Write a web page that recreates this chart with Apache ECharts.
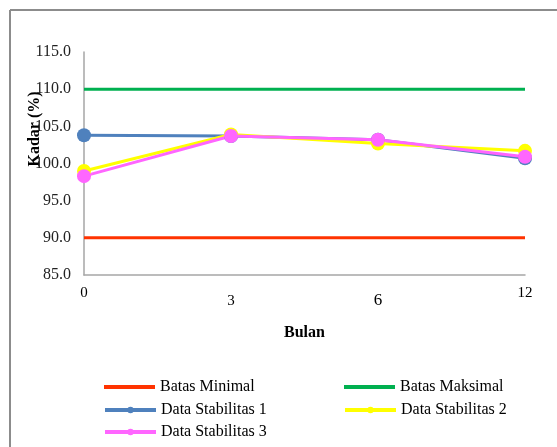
<!DOCTYPE html>
<html>
<head>
<meta charset="utf-8">
<script src="https://cdn.jsdelivr.net/npm/echarts@6/dist/echarts.min.js"></script>
<style>
  html, body { margin: 0; padding: 0; background: #fff; }
  #chart { width: 557px; height: 447px; }
</style>
</head>
<body>
<div id="chart"></div>
<script>
// Storage months and assay content (%)
const bulan = ['0', '3', '6', '12'];
const batasMinimal = [90, 90, 90, 90];
const batasMaksimal = [110, 110, 110, 110];
const stabilitas1 = [103.8, 103.7, 103.2, 100.7];
const stabilitas2 = [99.0, 103.9, 102.7, 101.7];
const stabilitas3 = [98.3, 103.7, 103.2, 100.9];

const serif = '"Liberation Serif", "Times New Roman", serif';
const chart = echarts.init(document.getElementById('chart'));

const lineSeries = (name, data, color, withMarker) => ({
  name,
  type: 'line',
  data,
  symbol: withMarker ? 'circle' : 'none',
  symbolSize: 14,
  showSymbol: withMarker,
  lineStyle: { color, width: 3 },
  itemStyle: { color },
  emphasis: { disabled: true },
  animation: false
});

// one legend entry per box so each sits in its own row/column cell
const legendItem = (name, left, top, plain) => ({
  left: plain ? left + 1 : left, top, orient: 'horizontal',
  itemWidth: 51, itemHeight: plain ? 4 : 8, itemGap: 0, padding: 0,
  icon: plain ? 'rect' : undefined,
  lineStyle: { width: 4 },
  textStyle: { fontFamily: serif, fontSize: 16, color: '#000', padding: [0, 0, 0, 0] },
  data: [name]
});

chart.setOption({
  animation: false,
  backgroundColor: '#fff',
  grid: { left: 84, right: 32, top: 52, bottom: 172, containLabel: false },
  xAxis: {
    type: 'category',
    data: bulan,
    boundaryGap: false,
    name: 'Bulan',
    nameLocation: 'middle',
    nameGap: 50,
    nameTextStyle: { fontFamily: serif, fontWeight: 'bold', fontSize: 16, color: '#000' },
    axisLine: { lineStyle: { color: '#a6a6a6', width: 1.5 } },
    axisTick: { show: false },
    axisLabel: {
      margin: 11,
      fontFamily: serif,
      fontSize: 15,
      color: '#000',
      formatter: (v, i) => '{l' + i + '|' + v + '}',
      rich: {
        l0: { fontFamily: serif, fontSize: 15, color: '#000', padding: [0, 0, 0, 0] },
        l1: { fontFamily: serif, fontSize: 15, color: '#000', padding: [8, 0, 0, 0] },
        l2: { fontFamily: serif, fontSize: 17, color: '#000', padding: [6, 0, 0, 0] },
        l3: { fontFamily: serif, fontSize: 15, color: '#000', padding: [0, 0, 0, 0] }
      }
    },
    splitLine: { show: false }
  },
  yAxis: {
    type: 'value',
    min: 85,
    max: 115,
    interval: 5,
    axisLine: { show: true, lineStyle: { color: '#a6a6a6', width: 1.5 } },
    axisTick: { show: false },
    splitLine: { show: false },
    axisLabel: {
      margin: 13,
      fontFamily: serif,
      fontSize: 16,
      color: '#222',
      formatter: v => v.toFixed(1)
    }
  },
  legend: [
    legendItem('Batas Minimal', 103, 379, true),
    legendItem('Batas Maksimal', 343, 379, true),
    legendItem('Data Stabilitas 1', 103, 402, false),
    legendItem('Data Stabilitas 2', 343, 402, false),
    legendItem('Data Stabilitas 3', 103, 424, false)
  ],
  graphic: [
    { type: 'line', shape: { x1: 10, y1: 10, x2: 557, y2: 10 }, style: { stroke: '#8c8c8c', lineWidth: 2 }, silent: true },
    { type: 'line', shape: { x1: 10, y1: 10, x2: 10, y2: 447 }, style: { stroke: '#8c8c8c', lineWidth: 2 }, silent: true },
    {
      type: 'text', x: 35, y: 129, rotation: Math.PI / 2,
      style: {
        text: 'Kadar (%)', fontFamily: serif, fontWeight: 'bold', fontSize: 16,
        fill: '#000', align: 'center', verticalAlign: 'middle'
      },
      silent: true
    }
  ],
  series: [
    lineSeries('Batas Minimal', batasMinimal, '#ff3300', false),
    lineSeries('Batas Maksimal', batasMaksimal, '#00b050', false),
    lineSeries('Data Stabilitas 1', stabilitas1, '#4f81bd', true),
    lineSeries('Data Stabilitas 2', stabilitas2, '#ffff00', true),
    lineSeries('Data Stabilitas 3', stabilitas3, '#ff66ff', true)
  ]
});
</script>
</body>
</html>
